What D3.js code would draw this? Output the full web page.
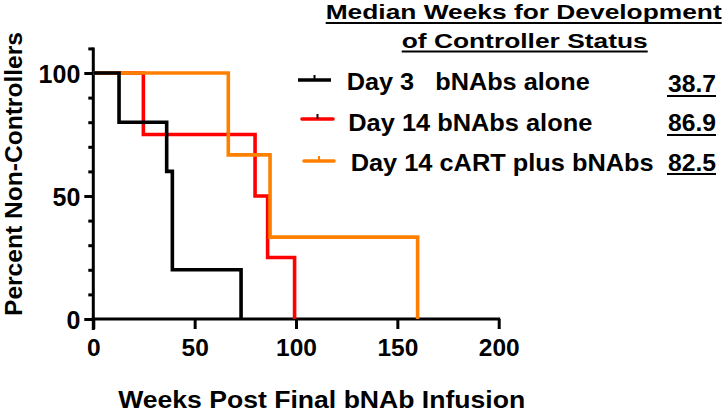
<!DOCTYPE html>
<html>
<head>
<meta charset="utf-8">
<script src="https://cdn.jsdelivr.net/npm/d3@7"></script>
<style>
  html, body { margin: 0; padding: 0; background: #fff; }
  svg { display: block; }
  text { font-family: "Liberation Sans", Arial, Helvetica, sans-serif; font-weight: bold; fill: #000; white-space: pre; }
</style>
</head>
<body>
<div id="chart"></div>
<script>
// ---- Data ----
const seriesNames = ["Day 3   bNAbs alone", "Day 14 bNAbs alone", "Day 14 cART plus bNAbs"];
const seriesColors = ["#000000", "#ff0000", "#ff8000"];
const medianWeeks = ["38.7", "86.9", "82.5"];

const day3Weeks = [0, 12.7, 36.2, 39.0, 72.9];
const day3Pct   = [100, 80, 60, 20, 0];

const day14Weeks = [0, 24.7, 79.8, 86.0, 99.3];
const day14Pct   = [100, 75, 50, 25, 0];

const cartWeeks = [0, 66.6, 87.2, 160.0];
const cartPct   = [100, 66.7, 33.3, 0];

const xTicks = [0, 50, 100, 150, 200];
const yTicks = [0, 50, 100];
const yMinorTicks = [10, 20, 30, 40, 60, 70, 80, 90, 110];

const titleLines = ["Median Weeks for Development", "of Controller Status"];
const xTitle = "Weeks Post Final bNAb Infusion";
const yTitle = "Percent Non-Controllers";

// ---- Layout ----
const W = 723, H = 414;
const svg = d3.select("#chart").append("svg").attr("width", W).attr("height", H);

const x = d3.scaleLinear().domain([0, 200]).range([93.3, 498.7]);
const y = d3.scaleLinear().domain([0, 100]).range([319, 73]);

// ---- Axes ----
const xAxis = d3.axisBottom(x).tickValues(xTicks).tickSize(10).tickPadding(3).tickFormat(d3.format("d"));
const gx = svg.append("g").attr("transform", `translate(0,${y(0)})`).call(xAxis);
gx.select(".domain").attr("stroke", "#000").attr("stroke-width", 3).attr("d", `M${x(0)-1.5},0H${x(200)+1.5}`);
gx.selectAll(".tick line").attr("stroke", "#000").attr("stroke-width", 3);
gx.selectAll(".tick text").attr("font-size", 24.5).attr("dy", null).attr("y", 37)
  .style("font-family", "'Liberation Sans', Arial, sans-serif").style("font-weight", "bold");

const yAxis = d3.axisLeft(y).tickValues(yTicks).tickSize(9).tickPadding(3).tickFormat(d3.format("d"));
const gy = svg.append("g").attr("transform", `translate(${x(0)},0)`).call(yAxis);
gy.select(".domain").attr("stroke", "#000").attr("stroke-width", 3).attr("d", `M0,${y(110)-1}V${y(0)+11}`);
gy.selectAll(".tick line").attr("stroke", "#000").attr("stroke-width", 3);
gy.selectAll(".tick text").attr("font-size", 25).attr("dy", "0.36em").attr("x", -13)
  .style("font-family", "'Liberation Sans', Arial, sans-serif").style("font-weight", "bold");

const yMinor = d3.axisLeft(y).tickValues(yMinorTicks).tickSize(5).tickFormat("");
const gym = svg.append("g").attr("transform", `translate(${x(0)},0)`).call(yMinor);
gym.select(".domain").remove();
gym.selectAll(".tick line").attr("stroke", "#000").attr("stroke-width", 3);

// ---- Step curves ----
const line = d3.line().x(d => x(d[0])).y(d => y(d[1])).curve(d3.curveStepAfter);
const curves = [
  { w: day14Weeks, p: day14Pct, c: seriesColors[1] },
  { w: cartWeeks,  p: cartPct,  c: seriesColors[2] },
  { w: day3Weeks,  p: day3Pct,  c: seriesColors[0] }
];
curves.forEach(s => {
  const pts = s.w.map((v, i) => [v, s.p[i]]);
  svg.append("path").datum(pts).attr("d", line)
    .attr("fill", "none").attr("stroke", s.c).attr("stroke-width", 3.6)
    .attr("stroke-linejoin", "miter");
});

// ---- Axis titles ----
svg.append("text").attr("x", 321.7).attr("y", 408).attr("text-anchor", "middle")
  .attr("font-size", 23).attr("textLength", 407).attr("lengthAdjust", "spacingAndGlyphs").text(xTitle);

svg.append("text").attr("transform", "translate(22,174) rotate(-90)").attr("text-anchor", "middle")
  .attr("font-size", 23).attr("textLength", 284).attr("lengthAdjust", "spacingAndGlyphs").text(yTitle);

// ---- Legend title ----
const titleSpec = [
  { cx: 523.7, base: 18.5, len: 396, ul: 23 },
  { cx: 524.7, base: 47.5, len: 246, ul: 51.5 }
];
titleLines.forEach((t, i) => {
  const s = titleSpec[i];
  svg.append("text").attr("x", s.cx).attr("y", s.base).attr("text-anchor", "middle")
    .attr("font-size", 20.5).attr("textLength", s.len).attr("lengthAdjust", "spacingAndGlyphs").text(t);
  svg.append("line").attr("x1", s.cx - s.len / 2).attr("x2", s.cx + s.len / 2)
    .attr("y1", s.ul).attr("y2", s.ul).attr("stroke", "#000").attr("stroke-width", 2);
});

// ---- Legend entries ----
const legSpec = [
  { lx1: 298, lx2: 331, ly: 80,  tx: 346.7, base: 90,  len: 243, vBase: 92,  ul: 96 },
  { lx1: 302, lx2: 333, ly: 119, tx: 348.3, base: 131, len: 244, vBase: 131, ul: 135 },
  { lx1: 304, lx2: 334, ly: 161, tx: 350.7, base: 171, len: 303, vBase: 170.5, ul: 174 }
];
const tickColors = ["#000000", "#330000", "#ff8000"];
seriesNames.forEach((name, i) => {
  const s = legSpec[i];
  svg.append("line").attr("x1", s.lx1).attr("x2", s.lx2).attr("y1", s.ly).attr("y2", s.ly)
    .attr("stroke", seriesColors[i]).attr("stroke-width", 3.6)
    .attr("stroke-linecap", i === 0 ? "butt" : "round");
  const mx = (s.lx1 + s.lx2) / 2;
  svg.append("line").attr("x1", mx).attr("x2", mx).attr("y1", s.ly - 5).attr("y2", s.ly)
    .attr("stroke", tickColors[i]).attr("stroke-width", 2);
  svg.append("text").attr("x", s.tx).attr("y", s.base).attr("font-size", 24)
    .attr("textLength", s.len).attr("lengthAdjust", "spacingAndGlyphs").text(name);
  svg.append("text").attr("x", 716).attr("y", s.vBase).attr("text-anchor", "end")
    .attr("font-size", 24).attr("textLength", 48).attr("lengthAdjust", "spacingAndGlyphs").text(medianWeeks[i]);
  svg.append("line").attr("x1", 667).attr("x2", 716).attr("y1", s.ul).attr("y2", s.ul)
    .attr("stroke", "#000").attr("stroke-width", 2);
});
</script>
</body>
</html>
